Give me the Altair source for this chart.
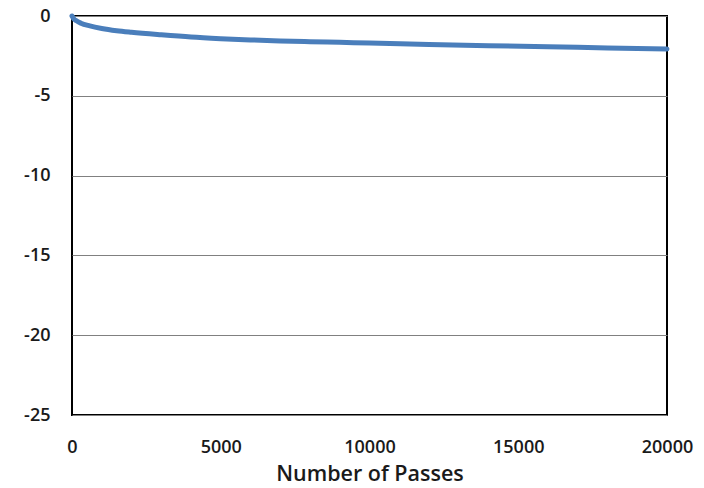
import altair as alt
import pandas as pd

passes = [0, 50, 150, 300, 600, 1000, 1500, 2000, 3000, 4000, 5000, 6000, 7000,
          8000, 9000, 10000, 12000, 14000, 16000, 18000, 20000]
values = [0.0, -0.15, -0.3, -0.45, -0.62, -0.78, -0.92, -1.02, -1.18, -1.32, -1.42,
          -1.5, -1.56, -1.61, -1.65, -1.69, -1.78, -1.86, -1.93, -2.0, -2.07]
x_ticks = [0, 5000, 10000, 15000, 20000]
y_ticks = [0, -5, -10, -15, -20, -25]

df = pd.DataFrame({"passes": passes, "value": values})

font = "Open Sans"

chart = alt.Chart(df).mark_line(
    color="#4a7ebb", strokeWidth=5, interpolate="monotone", strokeCap="round"
).encode(
    x=alt.X("passes:Q", scale=alt.Scale(domain=[0, 20000], nice=False),
            axis=alt.Axis(values=x_ticks, title="Number of Passes", grid=False,
                          ticks=False, domain=False, labelPadding=23,
                          labelExpr="'' + datum.value", labelFontSize=18,
                          titleFontSize=21.5, titlePadding=7, labelFlush=False)),
    y=alt.Y("value:Q", scale=alt.Scale(domain=[-25, 0], nice=False),
            axis=alt.Axis(values=y_ticks, title=None, grid=True, gridColor="#808080",
                          gridWidth=1.2, ticks=False, domain=False, labelPadding=22,
                          labelExpr="'' + datum.value", labelFontSize=18)),
).properties(
    width=595, height=399,
    autosize=alt.AutoSizeParams(type="none"),
    padding={"left": 64, "top": 8, "right": 29, "bottom": 72},
).configure_view(
    stroke="#000000", strokeWidth=2
).configure_axis(
    labelFont=font, titleFont=font, labelColor="#1a1a1a", titleColor="#1a1a1a",
    labelFontWeight=600, titleFontWeight=600
)

chart.save("out.html", embed_options={"renderer": "svg", "actions": False})
